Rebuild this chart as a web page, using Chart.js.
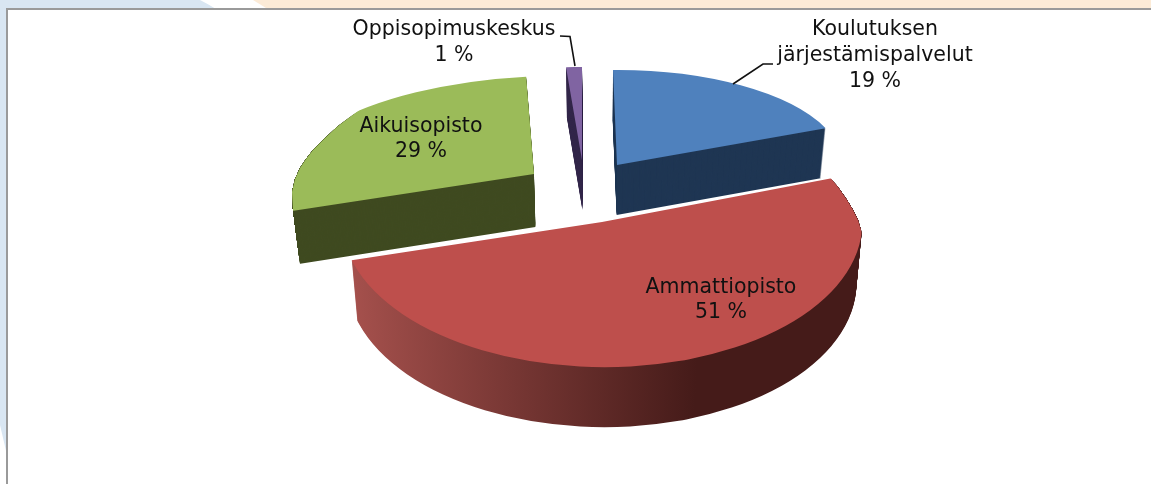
<!DOCTYPE html>
<html><head><meta charset="utf-8">
<style>html,body{margin:0;padding:0;background:#fff;overflow:hidden}canvas{display:block}</style>
<script src="https://cdn.jsdelivr.net/npm/chart.js@4"></script>
</head><body><canvas id="c" width="1151" height="484"></canvas>
<script>
const categories = ['Koulutuksen järjestämispalvelut', 'Ammattiopisto', 'Aikuisopisto', 'Oppisopimuskeskus'];
const values = [19, 51, 29, 1];
const topColors = ['#4F81BD', '#BE4F4C', '#9BBB59', '#8064A2'];
const labelLines = [['Koulutuksen', 'järjestämispalvelut'], ['Ammattiopisto'], ['Aikuisopisto'], ['Oppisopimuskeskus']];

// Tilted view of each exploded slice: apex position, a 2x2 projection of the unit circle and wall depth
const views = [
  {ax: 617, ay: 165, a: 226, b: -2, c: 4, d: 95, depth: 50},
  {ax: 602, ay: 222, a: 260, b: 7, c: -10, d: 145, depth: 60,
   clip: [[0, 0], [826, 0], [828, 175], [838, 187], [847, 200], [853, 210], [858, 220], [861, 230], [863, 240], [875, 484], [0, 484]]},
  {ax: 534, ay: 174, a: 252, b: -7, c: -8, d: 98, depth: 53,
   clip: [[600, 0], [385, 0], [375, 100], [362, 108], [350, 117], [338, 126], [325, 138], [313, 150], [306, 159], [300, 168], [295, 179], [292, 192], [293, 210], [300, 264], [600, 264]]},
  {ax: 582, ay: 160, a: 254, b: 0, c: 0, d: 93, depth: 50}
];
const vanishX = 600, shrink = 0.978;
const drawOrder = [3, 2, 0, 1];
const labelPos = [[875, 30, 25.7], [721, 288, 25], [421, 127, 25], [454, 30, 26]];
const leaders = [
  [[733, 84], [763, 64], [773, 64]],
  null, null,
  [[560, 36], [570, 36.5], [575, 66]]
];
const FONT = '20.5px "DejaVu Sans"';

function wallFill(ctx, i, el) {
  const R = el.outerRadius;
  if (i === 1) {
    const g = ctx.createLinearGradient(el.x - R, 0, el.x + R, 0);
    g.addColorStop(0, '#A8524E'); g.addColorStop(0.7, '#451B19'); g.addColorStop(1, '#451B19');
    return g;
  }
  return ['#1F3653', '', '#3F4A20', '#33274A'][i];
}
function place(ctx, v, el) {
  const R = el.outerRadius;
  ctx.transform(v.a / R, v.b / R, v.c / R, v.d / R, v.ax, v.ay);
  ctx.translate(-el.x, -el.y);
}
function plain(color) {
  return {backgroundColor: color, borderColor: color, borderWidth: 0, borderAlign: 'center',
          borderRadius: 0, offset: 0, spacing: 0, circular: true, borderDash: [], borderDashOffset: 0, borderJoinStyle: 'round'};
}
function polyline(ctx, pts) {
  ctx.beginPath();
  pts.forEach((p, k) => k ? ctx.lineTo(p[0], p[1]) : ctx.moveTo(p[0], p[1]));
}
const tilted = {
  id: 'tilted',
  beforeDraw(chart) {
    const ctx = chart.ctx;
    ctx.save();
    ctx.fillStyle = '#fff'; ctx.fillRect(0, 0, 1151, 484);
    ctx.fillStyle = '#D9E6F2';
    ctx.beginPath(); ctx.moveTo(0, 0); ctx.lineTo(200, 0); ctx.quadraticCurveTo(208, 4, 216, 9);
    ctx.lineTo(7, 9); ctx.lineTo(7, 455); ctx.lineTo(0, 425); ctx.closePath(); ctx.fill();
    ctx.fillStyle = '#FCEBD7';
    ctx.beginPath(); ctx.moveTo(253, 0); ctx.lineTo(1151, 0); ctx.lineTo(1151, 8); ctx.lineTo(266, 8); ctx.closePath(); ctx.fill();
    ctx.fillStyle = '#9A9A9A';
    ctx.fillRect(6, 8, 1145, 2); ctx.fillRect(6, 8, 2, 476);
    ctx.restore();
  },
  beforeDatasetsDraw(chart) {
    const ctx = chart.ctx, arcs = chart.getDatasetMeta(0).data;
    for (const i of drawOrder) {
      const el = arcs[i], v = views[i], saved = el.options;
      ctx.save();
      if (v.clip) { polyline(ctx, v.clip); ctx.closePath(); ctx.clip(); }
      el.options = plain(wallFill(ctx, i, el));
      for (let d = v.depth; d >= 1; d--) {
        const f = 1 - (1 - shrink) * d / v.depth;
        ctx.save();
        ctx.translate(vanishX, d); ctx.scale(f, 1); ctx.translate(-vanishX, 0);
        place(ctx, v, el);
        el.draw(ctx);
        ctx.restore();
      }
      el.options = plain(topColors[i]);
      ctx.save(); place(ctx, v, el); el.draw(ctx); ctx.restore();
      el.options = saved;
      ctx.restore();
    }
    ctx.save();
    ctx.strokeStyle = '#111'; ctx.lineWidth = 1.6;
    leaders.forEach(l => { if (!l) return; polyline(ctx, l); ctx.stroke(); });
    ctx.fillStyle = '#111'; ctx.font = FONT; ctx.textAlign = 'center'; ctx.textBaseline = 'middle';
    categories.forEach((_, i) => {
      const [x, y, lh] = labelPos[i];
      const lines = labelLines[i].concat([values[i] + ' %']);
      lines.forEach((t, k) => ctx.fillText(t, x, y + k * lh));
    });
    ctx.restore();
    return false;
  }
};
new Chart(document.getElementById('c'), {
  type: 'pie',
  data: {labels: categories, datasets: [{data: values, backgroundColor: topColors, borderWidth: 0}]},
  options: {responsive: false, animation: false, plugins: {legend: {display: false}, tooltip: {enabled: false}}},
  plugins: [tilted]
});
</script></body></html>
